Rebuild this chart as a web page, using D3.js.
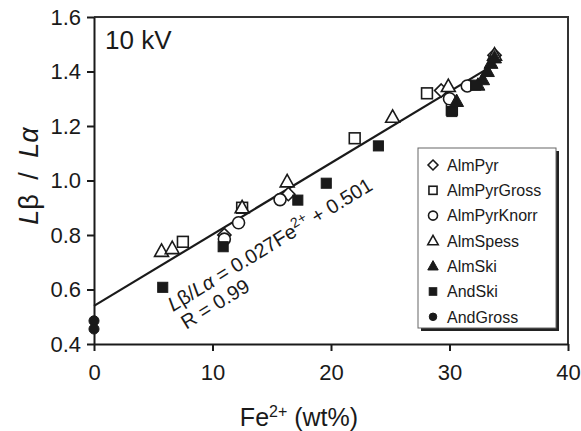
<!DOCTYPE html>
<html><head><meta charset="utf-8">
<script src="https://cdn.jsdelivr.net/npm/d3@7"></script>
<style>body{margin:0;background:#fff}svg{display:block;font-family:"Liberation Sans",Arial,sans-serif}</style>
</head><body><svg id="c" width="581" height="431"></svg>
<script>
// ---- data ----
const seriesNames = ["AlmPyr","AlmPyrGross","AlmPyrKnorr","AlmSpess","AlmSki","AndSki","AndGross"];
const almPyrX = [11.0, 16.4, 29.3, 33.8];
const almPyrY = [0.80, 0.95, 1.33, 1.46];
const almPyrGrossX = [7.5, 12.5, 22.0, 28.1, 30.2];
const almPyrGrossY = [0.775, 0.90, 1.155, 1.32, 1.26];
const almPyrKnorrX = [11.0, 12.2, 15.7, 30.0, 31.5];
const almPyrKnorrY = [0.785, 0.845, 0.93, 1.30, 1.347];
const almSpessX = [5.7, 6.6, 12.5, 16.3, 25.2, 29.9, 33.8];
const almSpessY = [0.74, 0.75, 0.90, 0.995, 1.232, 1.345, 1.46];
const almSkiX = [30.6, 32.4, 32.8, 33.2, 33.5, 33.8];
const almSkiY = [1.29, 1.35, 1.37, 1.40, 1.43, 1.45];
const andSkiX = [5.8, 10.9, 17.2, 19.6, 24.0, 30.2, 32.2];
const andSkiY = [0.608, 0.757, 0.928, 0.99, 1.127, 1.253, 1.35];
const andGrossX = [0, 0];
const andGrossY = [0.485, 0.455];
const fitX = [0, 33];
const fitY = [0.54, 1.405];
const xTicks = [0, 10, 20, 30, 40];
const yTicks = [0.4, 0.6, 0.8, 1.0, 1.2, 1.4, 1.6];

const svg = d3.select("#c");
const x = d3.scaleLinear().domain([0, 40]).range([94, 568]);
const y = d3.scaleLinear().domain([0.4, 1.6]).range([344, 17]);
const ink = "#1a1a1a";

// frame top/right
svg.append("path").attr("d", `M${x(0)},${y(1.6)}H${x(40)}V${y(0.4)}`)
  .attr("fill","none").attr("stroke","#333").attr("stroke-width",2);

// axes
const ya = svg.append("g").attr("transform",`translate(${x(0)},0)`)
  .call(d3.axisLeft(y).tickValues(yTicks).tickFormat(d3.format(".1f")).tickSize(7).tickSizeOuter(0).tickPadding(6));
const xa = svg.append("g").attr("transform",`translate(0,${y(0.4)})`)
  .call(d3.axisBottom(x).tickValues(xTicks).tickSize(7).tickSizeOuter(0).tickPadding(13));
[ya, xa].forEach(g => {
  g.select(".domain").attr("stroke", ink).attr("stroke-width", 2);
  g.selectAll(".tick line").attr("stroke", ink).attr("stroke-width", 2);
  g.selectAll(".tick text").attr("fill", ink).style("font-size","22px").style("font-family","Liberation Sans, Arial, sans-serif");
});

// fit line
svg.append("line").attr("x1", x(fitX[0])).attr("y1", y(fitY[0])).attr("x2", x(fitX[1])).attr("y2", y(fitY[1]))
  .attr("stroke", ink).attr("stroke-width", 2.2);

// markers
function marker(g, type, s) {
  const open = {fill:"#fff", stroke:ink, sw:1.6};
  const solid = {fill:ink, stroke:ink, sw:1};
  let el, st;
  if (type === "diamond") { el = g.append("path").attr("d", `M0,${-s*0.55}L${s*0.55},0L0,${s*0.55}L${-s*0.55},0Z`); st = open; }
  else if (type === "square") { el = g.append("rect").attr("x",-s*0.45).attr("y",-s*0.45).attr("width",s*0.9).attr("height",s*0.9); st = open; }
  else if (type === "circle") { el = g.append("circle").attr("r", s*0.5); st = open; }
  else if (type === "triangle") { el = g.append("path").attr("d", `M0,${-s*0.62}L${s*0.58},${s*0.42}L${-s*0.58},${s*0.42}Z`); st = open; }
  else if (type === "ftriangle") { el = g.append("path").attr("d", `M0,${-s*0.62}L${s*0.58},${s*0.42}L${-s*0.58},${s*0.42}Z`); st = solid; }
  else if (type === "fsquare") { el = g.append("rect").attr("x",-s*0.42).attr("y",-s*0.42).attr("width",s*0.84).attr("height",s*0.84); st = solid; }
  else { el = g.append("circle").attr("r", s*0.42); st = solid; }
  el.attr("fill", st.fill).attr("stroke", st.stroke).attr("stroke-width", st.sw);
}
const series = [
  {name:seriesNames[0], type:"diamond", xs:almPyrX, ys:almPyrY},
  {name:seriesNames[1], type:"square", xs:almPyrGrossX, ys:almPyrGrossY},
  {name:seriesNames[2], type:"circle", xs:almPyrKnorrX, ys:almPyrKnorrY},
  {name:seriesNames[3], type:"triangle", xs:almSpessX, ys:almSpessY},
  {name:seriesNames[4], type:"ftriangle", xs:almSkiX, ys:almSkiY},
  {name:seriesNames[5], type:"fsquare", xs:andSkiX, ys:andSkiY},
  {name:seriesNames[6], type:"fcircle", xs:andGrossX, ys:andGrossY}
];
series.forEach(s => {
  s.xs.forEach((xv, i) => {
    const g = svg.append("g").attr("transform", `translate(${x(xv)},${y(s.ys[i])})`);
    marker(g, s.type, 12);
  });
});

// legend
const lg = svg.append("g");
lg.append("rect").attr("x",421).attr("y",151).attr("width",138).attr("height",180).attr("fill","#222");
lg.append("rect").attr("x",418).attr("y",148).attr("width",138).attr("height",180).attr("fill","#fff").attr("stroke","#666").attr("stroke-width",1);
series.forEach((s, i) => {
  const cy = 165 + i * 25.3;
  const g = lg.append("g").attr("transform", `translate(433,${cy})`);
  marker(g, s.type, 9);
  lg.append("text").attr("x", 447).attr("y", cy).attr("dy","0.36em").attr("fill", ink)
    .style("font-size","16px").text(s.name);
});

// 10 kV
svg.append("text").attr("x",105).attr("y",49).attr("fill",ink).style("font-size","26px").text("10 kV");

// axis titles
const xt = svg.append("text").attr("x",299).attr("y",426).attr("text-anchor","middle").attr("fill",ink).style("font-size","25px");
xt.append("tspan").text("Fe");
xt.append("tspan").attr("dy",-9).style("font-size","16px").text("2+");
xt.append("tspan").attr("dy",9).text(" (wt%)");

const yt = svg.append("text").attr("transform","translate(38,176) rotate(-90)").attr("text-anchor","middle").attr("fill",ink)
  .style("font-size","27px").style("word-spacing","7px");
yt.append("tspan").style("font-style","italic").text("L");
yt.append("tspan").text("β / ");
yt.append("tspan").style("font-style","italic").text("L");
yt.append("tspan").style("font-style","italic").text("α");

// equation annotation
const ang = -31.5;
const ann = svg.append("g").attr("transform", `translate(173,312) rotate(${ang})`).attr("fill", ink).style("font-size","20px");
const t1 = ann.append("text").attr("x",0).attr("y",0);
t1.append("tspan").style("font-style","italic").text("L");
t1.append("tspan").text("β/");
t1.append("tspan").style("font-style","italic").text("L");
t1.append("tspan").style("font-style","italic").text("α");
t1.append("tspan").text(" = 0.027Fe");
t1.append("tspan").attr("dy",-8).style("font-size","14px").text("2+");
t1.append("tspan").attr("dy",8).text(" + 0.501");
ann.append("text").attr("x",2).attr("y",22).text("R = 0.99");
</script></body></html>
